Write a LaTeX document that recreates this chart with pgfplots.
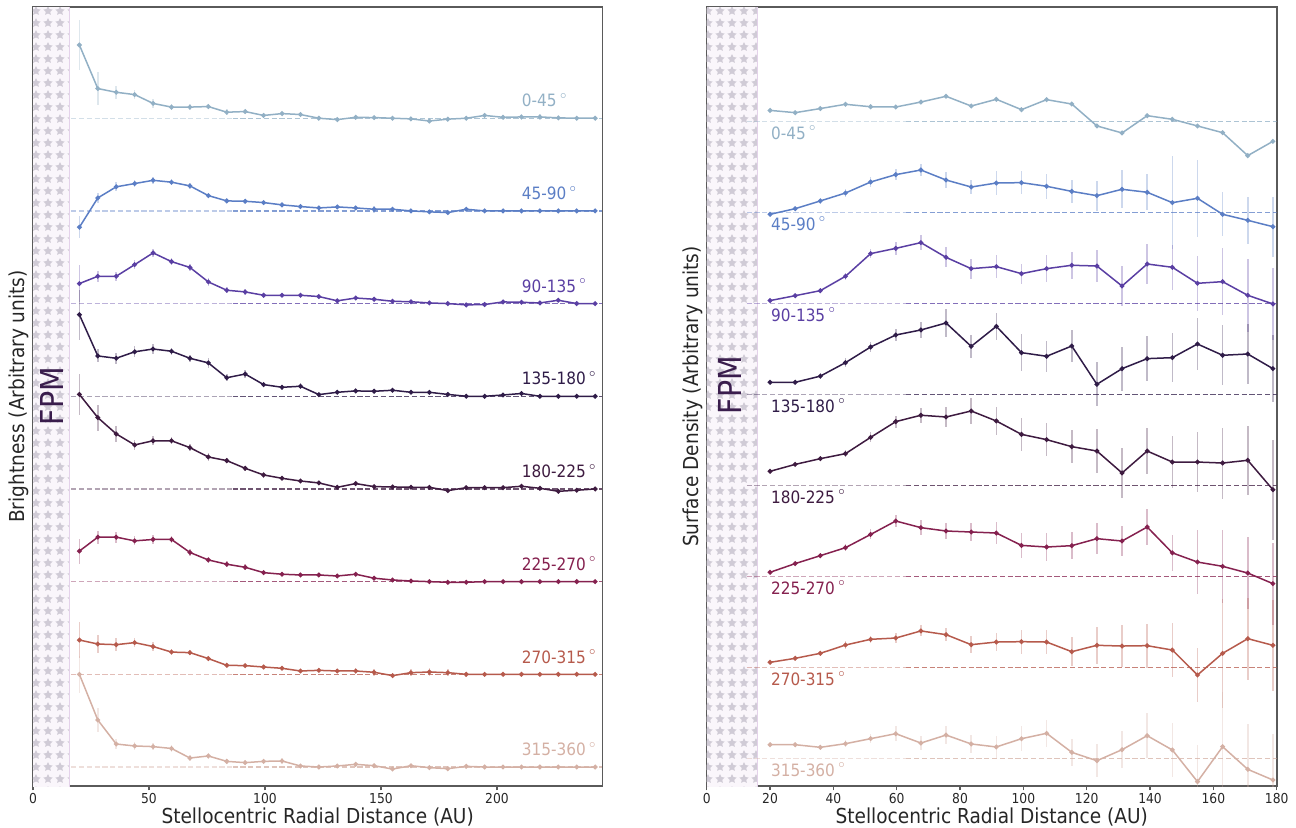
\documentclass[border=0pt]{standalone}
\usepackage{fontspec}
\setmainfont{DejaVu Sans Condensed}
\usepackage{pgfplots}
\pgfplotsset{compat=1.18}
\usepackage{pgfplotstable}
\usetikzlibrary{patterns.meta}

\definecolor{c0}{HTML}{92B0C5}
\definecolor{c1}{HTML}{5B7EC5}
\definecolor{c2}{HTML}{5A3FA3}
\definecolor{c3}{HTML}{2F1C48}
\definecolor{c4}{HTML}{3E1B40}
\definecolor{c5}{HTML}{85214F}
\definecolor{c6}{HTML}{B65A4C}
\definecolor{c7}{HTML}{D4B0A4}
\definecolor{framec}{HTML}{5A5A5A}
\definecolor{fpmbg}{HTML}{FAF6FB}
\definecolor{starc}{HTML}{D0CBD6}
\definecolor{fpmline}{HTML}{E4D2EA}
\definecolor{fpmtext}{HTML}{3A1D4D}

\pgfplotstableread{
x      a0     e0    a1     e1    a2     e2    a3     e3    a4     e4    a5     e5    a6     e6    a7     e7
20.00  0.790  0.27  -0.176 0.12  0.216  0.20  0.880  0.27  1.020  0.22  0.330  0.135 0.370  0.19  1.000  0.20
27.94  0.320  0.18  0.140  0.05  0.295  0.06  0.435  0.07  0.770  0.14  0.480  0.07  0.327  0.10  0.507  0.13
35.88  0.280  0.07  0.260  0.05  0.295  0.05  0.410  0.06  0.594  0.09  0.480  0.06  0.320  0.07  0.248  0.05
43.82  0.255  0.05  0.295  0.04  0.420  0.05  0.480  0.06  0.475  0.05  0.440  0.05  0.342  0.05  0.227  0.04
51.76  0.160  0.05  0.330  0.04  0.547  0.04  0.510  0.05  0.520  0.05  0.455  0.05  0.300  0.05  0.220  0.04
59.70  0.120  0.03  0.310  0.03  0.453  0.04  0.486  0.04  0.520  0.04  0.455  0.04  0.240  0.03  0.200  0.04
67.64  0.120  0.03  0.270  0.03  0.390  0.04  0.410  0.04  0.446  0.04  0.315  0.04  0.234  0.03  0.097  0.03
75.58  0.126  0.03  0.165  0.02  0.234  0.04  0.360  0.05  0.345  0.04  0.234  0.03  0.170  0.03  0.119  0.03
83.52  0.065  0.03  0.108  0.02  0.144  0.03  0.200  0.04  0.306  0.03  0.188  0.03  0.097  0.02  0.061  0.03
91.46  0.072  0.02  0.104  0.02  0.126  0.03  0.240  0.04  0.223  0.03  0.155  0.03  0.094  0.02  0.047  0.03
99.40  0.030  0.02  0.090  0.02  0.090  0.02  0.126  0.03  0.151  0.03  0.097  0.02  0.079  0.02  0.061  0.03
107.34 0.050  0.02  0.065  0.02  0.090  0.02  0.097  0.03  0.115  0.02  0.080  0.02  0.065  0.02  0.065  0.03
115.28 0.040  0.02  0.047  0.02  0.090  0.02  0.108  0.03  0.086  0.02  0.072  0.02  0.036  0.02  0.011  0.02
123.22 0.000  0.02  0.032  0.02  0.076  0.02  0.018  0.02  0.065  0.02  0.072  0.02  0.043  0.02  0.000  0.02
131.16 -0.015 0.02  0.043  0.02  0.030  0.02  0.043  0.02  0.018  0.02  0.061  0.02  0.036  0.02  0.011  0.02
139.10 0.010  0.02  0.032  0.02  0.060  0.02  0.058  0.02  0.058  0.02  0.080  0.02  0.036  0.03  0.029  0.03
147.04 0.007  0.02  0.018  0.04  0.047  0.02  0.054  0.02  0.025  0.02  0.037  0.02  0.022  0.04  0.014  0.02
154.98 0.000  0.02  0.018  0.02  0.025  0.02  0.065  0.02  0.022  0.02  0.018  0.02  -0.014 0.03  -0.022 0.02
162.92 -0.007 0.02  0.000  0.01  0.020  0.02  0.043  0.02  0.018  0.02  0.007  0.02  0.018  0.04  0.014  0.02
170.86 -0.030 0.02  -0.010 0.01  0.007  0.02  0.043  0.02  0.018  0.02  0.000  0.01  0.025  0.04  -0.007 0.02
178.80 -0.010 0.02  -0.018 0.01  0.000  0.02  0.020  0.02  -0.018 0.02  -0.007 0.01  0.018  0.04  -0.018 0.02
186.74 0.000  0.02  0.018  0.01  -0.014 0.02  0.000  0.02  0.014  0.02  -0.007 0.01  0.000  0.03  0.007  0.02
194.68 0.030  0.02  0.000  0.01  -0.010 0.02  0.000  0.01  0.014  0.02  0.000  0.01  0.000  0.02  0.000  0.01
202.62 0.010  0.02  0.000  0.01  0.018  0.02  0.014  0.01  0.014  0.01  0.000  0.01  0.000  0.01  0.000  0.01
210.56 0.014  0.03  0.000  0.01  0.014  0.02  0.030  0.01  0.029  0.01  0.000  0.01  0.000  0.01  0.000  0.01
218.50 0.014  0.03  0.000  0.01  0.007  0.01  0.000  0.01  0.007  0.01  0.000  0.01  0.000  0.01  0.000  0.01
226.44 0.004  0.01  0.000  0.01  0.036  0.01  0.000  0.01  -0.025 0.01  0.000  0.01  0.000  0.01  0.000  0.01
234.38 0.000  0.01  0.000  0.01  0.000  0.01  0.000  0.01  -0.014 0.01  0.000  0.01  0.000  0.01  0.000  0.01
242.32 0.000  0.01  0.000  0.01  0.000  0.01  0.000  0.01  0.000  0.01  0.000  0.01  0.000  0.01  0.000  0.01
}\leftdata

\pgfplotstableread{
x      a0     e0    a1     e1    a2     e2    a3     e3    a4     e4    a5     e5    a6     e6    a7     e7
20.00  0.120  0.00  -0.022 0.01  0.030  0.01  0.132  0.01  0.154  0.01  0.044  0.01  0.055  0.01  0.150  0.01
27.94  0.095  0.00  0.040  0.02  0.084  0.02  0.132  0.02  0.230  0.02  0.140  0.02  0.099  0.02  0.150  0.02
35.88  0.140  0.00  0.125  0.03  0.139  0.03  0.200  0.03  0.293  0.03  0.227  0.03  0.154  0.03  0.121  0.03
43.82  0.187  0.00  0.212  0.04  0.297  0.04  0.348  0.05  0.348  0.04  0.315  0.04  0.245  0.04  0.161  0.04
51.76  0.160  0.00  0.333  0.06  0.546  0.05  0.520  0.06  0.527  0.055 0.460  0.055 0.308  0.04  0.216  0.05
59.70  0.157  0.00  0.414  0.06  0.604  0.07  0.652  0.07  0.700  0.066 0.608  0.07  0.322  0.05  0.271  0.08
67.64  0.212  0.00  0.465  0.07  0.667  0.08  0.707  0.09  0.770  0.08  0.535  0.08  0.400  0.06  0.168  0.08
75.58  0.275  0.00  0.355  0.09  0.505  0.11  0.784  0.15  0.751  0.11  0.498  0.09  0.359  0.07  0.256  0.10
83.52  0.168  0.00  0.278  0.08  0.381  0.11  0.527  0.13  0.817  0.14  0.487  0.10  0.249  0.09  0.158  0.10
91.46  0.242  0.00  0.322  0.13  0.403  0.13  0.747  0.15  0.707  0.15  0.476  0.12  0.278  0.10  0.125  0.12
99.40  0.128  0.00  0.326  0.13  0.326  0.11  0.458  0.20  0.560  0.18  0.340  0.14  0.282  0.13  0.216  0.14
107.34 0.238  0.00  0.286  0.135 0.381  0.15  0.418  0.17  0.502  0.18  0.322  0.15  0.278  0.13  0.275  0.15
115.28 0.190  0.00  0.230  0.13  0.418  0.15  0.531  0.18  0.425  0.18  0.337  0.15  0.172  0.16  0.066  0.15
123.22 -0.051 0.00  0.183  0.165 0.410  0.18  0.110  0.24  0.377  0.24  0.414  0.17  0.242  0.20  -0.026 0.18
131.16 -0.128 0.00  0.253  0.21  0.190  0.22  0.282  0.24  0.136  0.27  0.388  0.17  0.234  0.23  0.095  0.20
139.10 0.062  0.00  0.220  0.20  0.432  0.22  0.392  0.25  0.377  0.25  0.542  0.20  0.238  0.24  0.249  0.25
147.04 0.022  0.00  0.106  0.51  0.396  0.25  0.403  0.27  0.256  0.29  0.258  0.20  0.190  0.30  0.092  0.30
154.98 -0.051 0.00  0.154  0.42  0.220  0.30  0.553  0.29  0.256  0.33  0.157  0.35  -0.084 0.30  -0.256 0.40
162.92 -0.125 0.00  -0.022 0.24  0.238  0.37  0.429  0.33  0.245  0.39  0.110  0.40  0.154  0.60  0.128  0.60
170.86 -0.377 0.00  -0.088 0.26  0.088  0.40  0.443  0.33  0.275  0.38  0.036  0.40  0.315  0.45  -0.121 0.50
178.80 -0.220 0.00  -0.158 0.33  -0.007 0.40  0.282  0.37  -0.048 0.55  -0.080 0.45  0.242  0.50  -0.238 0.50
}\rightdata

\pgfplotsset{
  panel/.style={
    scale only axis,
    axis line style={draw=framec, line width=0.8pt},
    ytick=\empty,
    xtick pos=bottom,
    tick align=outside,
    major tick length=2.2pt,
    tick style={draw=framec, line width=0.6pt},
    xticklabel style={font=\fontsize{6.85}{8}\selectfont, text=black!85, inner sep=1.5pt},
    /pgf/number format/assume math mode=true,
    label style={font=\fontsize{10.3}{12}\selectfont, text=black!85},
    xlabel style={at={(axis description cs:0.5,0)}, anchor=base, yshift=-18.5pt, inner sep=0pt},
    clip=true,
  },
  ser/.style={color=#1, line width=0.75pt, mark=*, mark size=0.8pt, mark options={solid},
    error bars/.cd, y dir=both, y explicit, error mark=none,
    error bar style={line width=0.8pt, opacity=0.3}},
}

\newcommand\ser[4]{\addplot[ser=#3] table[x=x, y expr=\thisrow{a#2}+#4, y error=e#2] {#1};}
\newcommand\base[5]{%
  \addplot[draw=#1, opacity=0.4, dash pattern=on 2.6pt off 1.3pt, line width=0.65pt, forget plot] coordinates {(#3,#2) (#4,#2)};
  \addplot[draw=#1, opacity=0.75, dash pattern=on 2.6pt off 1.3pt, line width=0.65pt, forget plot] coordinates {(#4,#2) (#5,#2)};
}
\newcommand\lab{\fontsize{8.5}{10}\selectfont}
\newcommand\dg{\,\raisebox{0.9ex}{\fontsize{5}{6}\selectfont$\circ$}}

\begin{document}
\begin{tikzpicture}
\useasboundingbox (0,0) rectangle (648pt,413.5pt);

% ---------------- left panel ----------------
\begin{axis}[panel, at={(16.5pt,20.5pt)}, anchor=south west,
  width=284.65pt, height=389.5pt,
  xmin=0, xmax=245.4, ymin=-0.205, ymax=8.2,
  xtick={0,50,100,150,200},
  xlabel={Stellocentric Radial Distance (AU)},
  ylabel={Brightness (Arbitrary units)},
  ylabel style={at={(axis description cs:-0.0158,0.5)}, anchor=base, inner sep=0pt},
]
\fill[fpmbg] (axis cs:0,-1) rectangle (axis cs:15.7,9);
\fill[pattern={Stars[distance=6pt, points=5, radius=2.4pt]}, pattern color=starc] (axis cs:0,-1) rectangle (axis cs:15.7,9);
\draw[fpmline, line width=0.8pt] (axis cs:15.7,-1) -- (axis cs:15.7,9);

\base{c0}{7}{16.5}{86}{245.4}
\base{c1}{6}{16.5}{86}{245.4}
\base{c2}{5}{16.5}{86}{245.4}
\base{c3}{4}{16.5}{86}{245.4}
\base{c4}{3}{16.5}{86}{245.4}
\base{c5}{2}{16.5}{86}{245.4}
\base{c6}{1}{16.5}{86}{245.4}
\base{c7}{0}{16.5}{86}{245.4}

\ser{\leftdata}{0}{c0}{7}
\ser{\leftdata}{1}{c1}{6}
\ser{\leftdata}{2}{c2}{5}
\ser{\leftdata}{3}{c3}{4}
\ser{\leftdata}{4}{c4}{3}
\ser{\leftdata}{5}{c5}{2}
\ser{\leftdata}{6}{c6}{1}
\ser{\leftdata}{7}{c7}{0}

\node[anchor=base west, inner sep=0pt, font=\lab, text=c0] at (axis cs:210.6,7.122) {0-45\dg};
\node[anchor=base west, inner sep=0pt, font=\lab, text=c1] at (axis cs:210.6,6.122) {45-90\dg};
\node[anchor=base west, inner sep=0pt, font=\lab, text=c2] at (axis cs:210.6,5.122) {90-135\dg};
\node[anchor=base west, inner sep=0pt, font=\lab, text=c3] at (axis cs:210.6,4.122) {135-180\dg};
\node[anchor=base west, inner sep=0pt, font=\lab, text=c4] at (axis cs:210.6,3.122) {180-225\dg};
\node[anchor=base west, inner sep=0pt, font=\lab, text=c5] at (axis cs:210.6,2.122) {225-270\dg};
\node[anchor=base west, inner sep=0pt, font=\lab, text=c6] at (axis cs:210.6,1.122) {270-315\dg};
\node[anchor=base west, inner sep=0pt, font=\lab, text=c7] at (axis cs:210.6,0.122) {315-360\dg};

\node[rotate=90, font=\fontsize{15.8}{18}\selectfont, text=fpmtext, inner sep=0pt] at (axis cs:8,4.0) {FPM};
\end{axis}

% ---------------- right panel ----------------
\begin{axis}[panel, at={(353.35pt,20.5pt)}, anchor=south west,
  width=285pt, height=389.5pt,
  xmin=0, xmax=180, ymin=-0.304, ymax=8.256,
  xtick={0,20,40,60,80,100,120,140,160,180},
  xlabel={Stellocentric Radial Distance (AU)},
  ylabel={Surface Density (Arbitrary units)},
  ylabel style={at={(axis description cs:-0.014,0.5)}, anchor=base, inner sep=0pt},
]
\fill[fpmbg] (axis cs:0,-1) rectangle (axis cs:16,9);
\fill[pattern={Stars[distance=6pt, points=5, radius=2.4pt]}, pattern color=starc] (axis cs:0,-1) rectangle (axis cs:16,9);
\draw[fpmline, line width=0.8pt] (axis cs:16,-1) -- (axis cs:16,9);

\base{c0}{7}{12.6}{63}{180}
\base{c1}{6}{12.6}{63}{180}
\base{c2}{5}{12.6}{63}{180}
\base{c3}{4}{12.6}{63}{180}
\base{c4}{3}{12.6}{63}{180}
\base{c5}{2}{12.6}{63}{180}
\base{c6}{1}{12.6}{63}{180}
\base{c7}{0}{12.6}{63}{180}

\ser{\rightdata}{0}{c0}{7}
\ser{\rightdata}{1}{c1}{6}
\ser{\rightdata}{2}{c2}{5}
\ser{\rightdata}{3}{c3}{4}
\ser{\rightdata}{4}{c4}{3}
\ser{\rightdata}{5}{c5}{2}
\ser{\rightdata}{6}{c6}{1}
\ser{\rightdata}{7}{c7}{0}

\node[anchor=base west, inner sep=0pt, font=\lab, text=c0] at (axis cs:20.2,6.802) {0-45\dg};
\node[anchor=base west, inner sep=0pt, font=\lab, text=c1] at (axis cs:20.2,5.802) {45-90\dg};
\node[anchor=base west, inner sep=0pt, font=\lab, text=c2] at (axis cs:20.2,4.802) {90-135\dg};
\node[anchor=base west, inner sep=0pt, font=\lab, text=c3] at (axis cs:20.2,3.802) {135-180\dg};
\node[anchor=base west, inner sep=0pt, font=\lab, text=c4] at (axis cs:20.2,2.802) {180-225\dg};
\node[anchor=base west, inner sep=0pt, font=\lab, text=c5] at (axis cs:20.2,1.802) {225-270\dg};
\node[anchor=base west, inner sep=0pt, font=\lab, text=c6] at (axis cs:20.2,0.802) {270-315\dg};
\node[anchor=base west, inner sep=0pt, font=\lab, text=c7] at (axis cs:20.2,-0.198) {315-360\dg};

\node[rotate=90, font=\fontsize{15.8}{18}\selectfont, text=fpmtext, inner sep=0pt] at (axis cs:7.4,4.1) {FPM};
\end{axis}
\end{tikzpicture}
\end{document}
